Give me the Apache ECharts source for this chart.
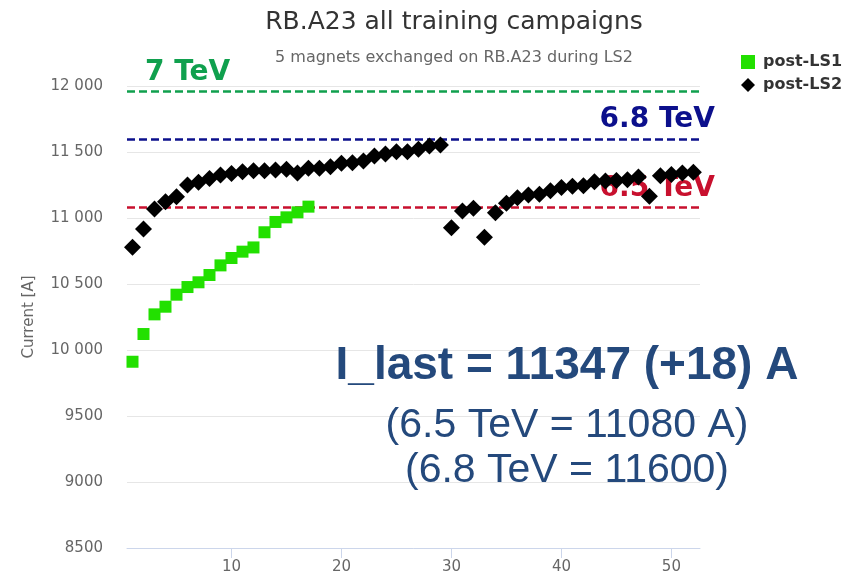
<!DOCTYPE html>
<html>
<head>
<meta charset="utf-8">
<title>RB.A23 all training campaigns</title>
<script src="https://cdn.jsdelivr.net/npm/echarts@6/dist/echarts.min.js"></script>
<style>
  html, body { margin: 0; padding: 0; background: #fff; }
  #main { width: 850px; height: 578px; }
</style>
</head>
<body>
<div id="main"></div>
<script>
// training quenches, post-LS1 campaign (quench number 1..17)
const postLS1 = [9911, 10121, 10270, 10328, 10419, 10477, 10513, 10568, 10641, 10697,
  10745, 10777, 10892, 10970, 11005, 11043, 11086];

// post-LS2 campaign (quench number 1..52)
const postLS2 = [10778, 10917, 11068, 11124, 11161, 11250, 11270, 11300, 11326, 11338,
  11351, 11358, 11358, 11364, 11369, 11340, 11376, 11376, 11389, 11414,
  11419, 11432, 11470, 11485, 11502, 11502, 11520, 11545, 11553, 10927,
  11053, 11073, 10854, 11040, 11111, 11154, 11174, 11180, 11207, 11232,
  11240, 11245, 11275, 11280, 11285, 11290, 11310, 11165, 11320, 11330,
  11340, 11347];

// reference currents
const levels = [
  { name: '7 TeV', value: 11960, color: '#10a04e', pos: 'insideStartTop', dx: 18 },
  { name: '6.8 TeV', value: 11600, color: '#0c108c', pos: 'insideEndTop', dx: -15 },
  { name: '6.5 TeV', value: 11080, color: '#c8102e', pos: 'insideEndTop', dx: -15 }
];

const xTicks = [10, 20, 30, 40, 50];

const notes = ['I_last = 11347 (+18) A', '(6.5 TeV = 11080 A)', '(6.8 TeV = 11600)'];

const toPoints = arr => arr.map((v, i) => [i + 1, v]);

function fmtY(v) {
  if (v >= 10000) {
    const s = String(v);
    return s.slice(0, s.length - 3) + ' ' + s.slice(-3);
  }
  return String(v);
}

const chart = echarts.init(document.getElementById('main'));
chart.setOption({
  animation: false,
  textStyle: { fontFamily: 'DejaVu Sans' },
  title: [
    {
      text: 'RB.A23 all training campaigns',
      left: 449, top: 5, textAlign: 'center',
      textStyle: { fontSize: 25, fontWeight: 'normal', color: '#333', fontFamily: 'DejaVu Sans' }
    },
    {
      text: '5 magnets exchanged on RB.A23 during LS2',
      left: 449, top: 45, textAlign: 'center',
      textStyle: { fontSize: 16, fontWeight: 'normal', color: '#666', fontFamily: 'DejaVu Sans' }
    }
  ],
  legend: {
    orient: 'vertical',
    left: 736, top: 49,
    itemWidth: 14, itemHeight: 14, itemGap: 7,
    textStyle: { fontSize: 16, fontWeight: 'bold', color: '#333', padding: [0, 0, 0, 3] },
    data: [
      { name: 'post-LS1', icon: 'rect' },
      { name: 'post-LS2', icon: 'diamond' }
    ]
  },
  grid: { left: 127, right: 150, top: 86, bottom: 30 },
  xAxis: {
    type: 'value',
    min: 0.5, max: 52.6,
    splitLine: { show: false },
    axisLine: { lineStyle: { color: '#ccd6eb', width: 1 } },
    axisTick: { show: true, length: 10, customValues: xTicks, lineStyle: { color: '#ccd6eb' } },
    axisLabel: { customValues: xTicks, color: '#666', fontSize: 15, margin: 12 }
  },
  yAxis: {
    type: 'value',
    min: 8500, max: 12000, interval: 500,
    name: 'Current [A]',
    nameLocation: 'middle',
    nameGap: 90,
    nameTextStyle: { color: '#666', fontSize: 15 },
    axisLine: { show: false },
    axisTick: { show: false },
    splitLine: { lineStyle: { color: '#e6e6e6', width: 1 } },
    axisLabel: { color: '#666', fontSize: 15, margin: 24, formatter: fmtY }
  },
  series: [
    {
      name: 'levels',
      type: 'scatter',
      data: [],
      z: 1,
      markLine: {
        silent: true,
        symbol: 'none',
        data: levels.map(l => ({
          yAxis: l.value,
          lineStyle: { color: l.color, type: [8, 4], width: 2.5 },
          label: {
            formatter: l.name,
            position: l.pos,
            distance: [l.dx, 5],
            color: l.color,
            fontSize: 28,
            fontWeight: 'bold',
            fontFamily: 'DejaVu Sans'
          }
        }))
      }
    },
    {
      name: 'post-LS1',
      type: 'scatter',
      symbol: 'rect',
      symbolSize: 12,
      zlevel: 1,
      itemStyle: { color: '#22e000', opacity: 1 },
      data: toPoints(postLS1)
    },
    {
      name: 'post-LS2',
      type: 'scatter',
      symbol: 'diamond',
      symbolSize: 17,
      zlevel: 1,
      z: 3,
      itemStyle: { color: '#000', opacity: 1 },
      data: toPoints(postLS2)
    }
  ],
  graphic: notes.map((t, i) => ({
    type: 'text',
    x: 567,
    y: [366, 426, 471][i],
    z: 10,
    style: {
      text: t,
      fill: '#24497c',
      fontFamily: 'Liberation Sans',
      fontSize: i === 0 ? 46 : 41,
      fontWeight: i === 0 ? 'bold' : 'normal',
      align: 'center',
      verticalAlign: 'middle'
    }
  }))
});
</script>
</body>
</html>
